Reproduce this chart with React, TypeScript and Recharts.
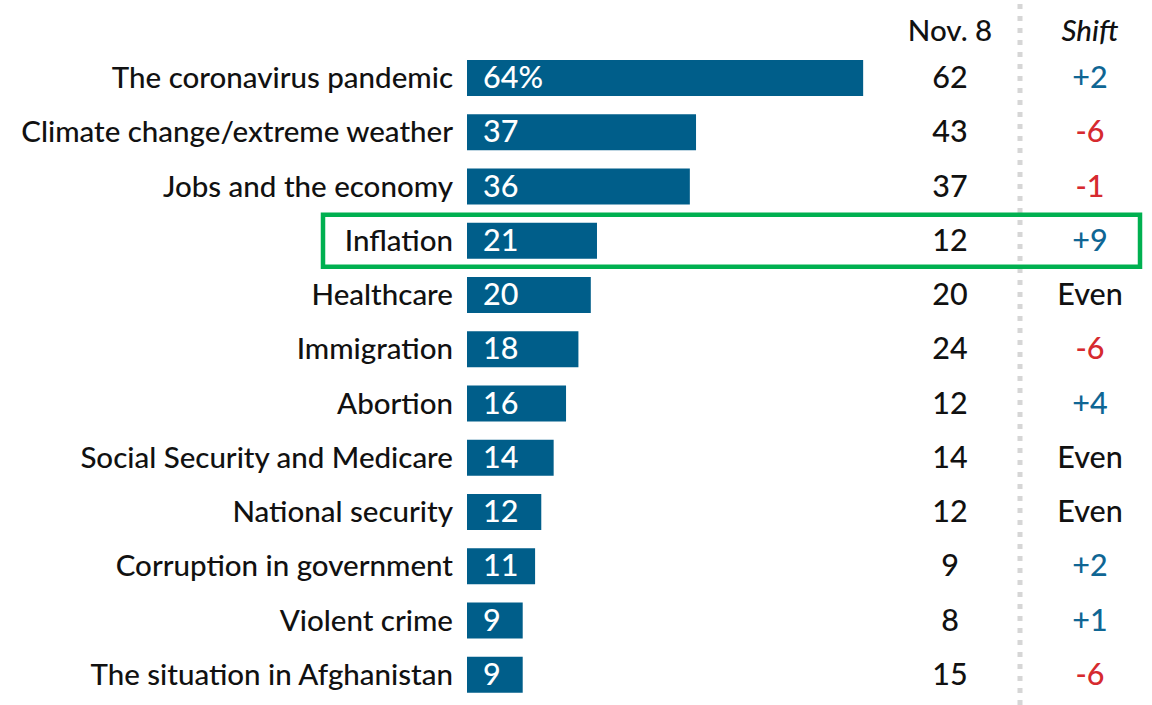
import { Bar, BarChart, Customized, LabelList, XAxis, YAxis } from "recharts";

const categories = [
  "The coronavirus pandemic",
  "Climate change/extreme weather",
  "Jobs and the economy",
  "Inflation",
  "Healthcare",
  "Immigration",
  "Abortion",
  "Social Security and Medicare",
  "National security",
  "Corruption in government",
  "Violent crime",
  "The situation in Afghanistan",
];
const current = [64, 37, 36, 21, 20, 18, 16, 14, 12, 11, 9, 9];
const nov8 = [62, 43, 37, 12, 20, 24, 12, 14, 12, 9, 8, 15];
const shift = ["+2", "-6", "-1", "+9", "Even", "-6", "+4", "Even", "Even", "+2", "+1", "-6"];
const highlighted = "Inflation";

const data = categories.map((name, i) => ({
  name,
  value: current[i],
  nov8: nov8[i],
  shift: shift[i],
}));

const FONT = "Lato, 'Open Sans', sans-serif";
const BAR = "#005e8a";
const BLUE = "#0f6694";
const RED = "#d62a2f";
const NOV_X = 950;
const SHIFT_X = 1090;
const FS = 29.5;
const FW = 500;

function shiftColor(s: string) {
  if (s.startsWith("+")) return BLUE;
  if (s.startsWith("-")) return RED;
  return "#111";
}

function CategoryTick(props: any) {
  const { x, y, payload } = props;
  return (
    <text x={x} y={y} dy={10} textAnchor="end" fontFamily={FONT} fontSize={FS} fontWeight={FW} fill="#111">
      {payload.value}
    </text>
  );
}

function RowLabels(props: any) {
  const { x, y, height, index } = props;
  const d = data[index];
  const cy = y + height / 2;
  return (
    <g>
      {d.name === highlighted && (
        <rect x={323} y={cy - 26} width={817} height={52} fill="none" stroke="#00b050" strokeWidth={4.5} />
      )}
      <text x={x + 16} y={cy} dy={10} fontFamily={FONT} fontSize={FS + 1} fontWeight={FW} fill="#fff">
        {index === 0 ? `${d.value}%` : d.value}
      </text>
      <text x={NOV_X} y={cy} dy={10} textAnchor="middle" fontFamily={FONT} fontSize={FS + 1} fontWeight={FW} fill="#111">
        {d.nov8}
      </text>
      <text x={SHIFT_X} y={cy} dy={10} textAnchor="middle" fontFamily={FONT} fontSize={FS + 1} fontWeight={FW} fill={shiftColor(d.shift)}>
        {d.shift}
      </text>
    </g>
  );
}

function Extras() {
  return (
    <g>
      <line x1={1020} y1={4} x2={1020} y2={705} stroke="#d6d6d6" strokeWidth={5} strokeDasharray="5 7" />
      <text x={NOV_X} y={41} textAnchor="middle" fontFamily={FONT} fontSize={FS} fontWeight={FW} fill="#111">
        Nov. 8
      </text>
      <text x={SHIFT_X} y={41} textAnchor="middle" fontFamily={FONT} fontSize={FS} fontWeight={FW} fontStyle="italic" fill="#111">
        Shift
      </text>
    </g>
  );
}

export default function App() {
  return (
    <div style={{ position: "absolute", left: 0, top: 0, background: "#fff" }}>
      <BarChart
        width={1152}
        height={705}
        data={data}
        layout="vertical"
        margin={{ top: 51, right: 66, bottom: 3, left: 0 }}
        barCategoryGap={18}
      >
        <XAxis type="number" domain={[0, 100]} hide />
        <YAxis
          type="category"
          dataKey="name"
          width={467}
          axisLine={false}
          tickLine={false}
          tickSize={0}
          tickMargin={14}
          interval={0}
          tick={<CategoryTick />}
        />
        <Customized component={<Extras />} />
        <Bar dataKey="value" fill={BAR} barSize={36} isAnimationActive={false}>
          <LabelList dataKey="value" content={<RowLabels />} />
        </Bar>
      </BarChart>
    </div>
  );
}
